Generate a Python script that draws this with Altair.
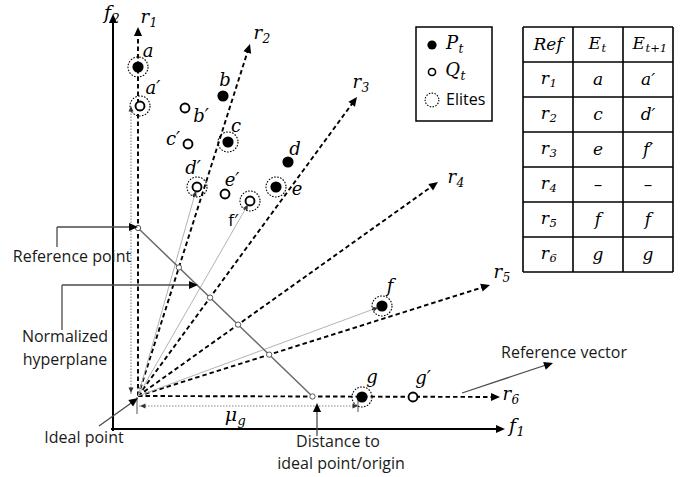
import math
import altair as alt
import pandas as pd

W, H = 691, 477
SERIF = "DejaVu Serif"
SANS = "Open Sans"

# ---------------- geometry (pixel units, y grows downward) ----------------
ideal_x, ideal_y = 138, 396

# reference vectors r1..r6: tip positions and label anchors
ray_sub = ["1", "2", "3", "4", "5", "6"]
ray_tip_x = [138, 250, 357, 438, 490, 500]
ray_tip_y = [27, 44, 97, 182, 285, 397]
ray_lab_x = [149, 262, 361, 456, 502, 511]
ray_lab_y = [18, 34, 83, 178, 273, 395]

# normalized hyperplane end points (on r1 and on r6)
hp_x = [138, 312]
hp_y = [228, 396]

# solutions: P_t (parents) / Q_t (offspring), elites ringed
pt_name = ["a", "a′", "b", "b′", "c", "c′", "d", "d′", "e", "e′", "f′", "f", "g", "g′"]
pt_x = [138, 140, 223, 185, 228, 188, 288, 197, 276, 225, 250, 382, 362, 413]
pt_y = [67, 106, 96, 108, 142, 144, 162, 187, 187, 194, 201, 306, 397, 397]
pt_kind = ["P", "Q", "P", "Q", "P", "Q", "P", "Q", "P", "Q", "Q", "P", "P", "Q"]
pt_elite = [1, 1, 0, 0, 1, 0, 0, 1, 1, 0, 1, 1, 1, 0]
lab_x = [148, 153, 225, 201, 236, 173, 295, 193, 297, 232, 233, 390, 372, 423]
lab_y = [52, 89, 81, 117, 127, 140, 150, 169, 190, 181, 221, 287, 378, 379]
lab_sans = [0, 0, 0, 0, 0, 0, 0, 0, 0, 0, 1, 0, 0, 0]

# solutions projected towards the ideal point with thin grey lines
proj_targets = ["d′", "f′", "f"]

# table of elites per reference vector
tbl_col_x = [523, 573, 623, 673]
tbl_row_y = [27, 62, 97, 132, 167, 202, 237, 272]
tbl_ref = ["1", "2", "3", "4", "5", "6"]
tbl_et = ["a", "c", "e", "–", "f", "g"]
tbl_et1 = ["a′", "d′", "f′", "–", "f", "g"]

# legend box
leg_box = (416, 27, 492, 121)
leg_item_y = [45, 72, 100]

# ---------------- helpers ----------------
xs = alt.Scale(domain=[0, W], nice=False, zero=False)
ys = alt.Scale(domain=[0, H], nice=False, zero=False, reverse=True)


def enc_xy():
    return dict(x=alt.X("x:Q", scale=xs, axis=None), y=alt.Y("y:Q", scale=ys, axis=None))


def segs(rows, color="black", width=1.0, dash=None, opacity=1.0):
    df = pd.DataFrame(rows, columns=["x", "y", "x2", "y2"])
    kw = dict(color=color, strokeWidth=width, opacity=opacity)
    if dash:
        kw["strokeDash"] = dash
    return alt.Chart(df).mark_rule(**kw).encode(
        x=alt.X("x:Q", scale=xs, axis=None),
        y=alt.Y("y:Q", scale=ys, axis=None),
        x2="x2:Q",
        y2="y2:Q",
    )


def unit(fx, fy, tx, ty):
    dx, dy = tx - fx, ty - fy
    n = math.hypot(dx, dy)
    return dx / n, dy / n


ARROW = "M0,0L-0.9,2L0.9,2Z"
arrow_rows = []


def arrow(tx, ty, fx, fy, size, color="black"):
    ang = math.degrees(math.atan2(tx - fx, -(ty - fy))) % 360
    arrow_rows.append(dict(x=tx, y=ty, angle=ang, size=size, color=color))


def line_to_arrow(fx, fy, tx, ty, alen):
    ux, uy = unit(fx, fy, tx, ty)
    return [fx, fy, tx - ux * (alen - 1), ty - uy * (alen - 1)]


def intersect(p1, p2, p3, p4):
    x1, y1 = p1
    x2, y2 = p2
    x3, y3 = p3
    x4, y4 = p4
    d = (x1 - x2) * (y3 - y4) - (y1 - y2) * (x3 - x4)
    t = ((x1 - x3) * (y3 - y4) - (y1 - y3) * (x3 - x4)) / d
    return x1 + t * (x2 - x1), y1 + t * (y2 - y1)


def text_layer(rows, size, font, italic=False, align="center", color="black", dy=0):
    df = pd.DataFrame(rows, columns=["x", "y", "t"])
    kw = dict(align=align, baseline="middle", fontSize=size, font=font, color=color, dy=dy)
    if italic:
        kw["fontStyle"] = "italic"
    return alt.Chart(df).mark_text(**kw).encode(
        x=alt.X("x:Q", scale=xs, axis=None),
        y=alt.Y("y:Q", scale=ys, axis=None),
        text="t:N",
    )


def sub_label(rows, size):
    # rows: (junction x, y, main, sub)
    main = [(r[0], r[1], r[2]) for r in rows]
    sub = [(r[0] + 0.5, r[1], r[3]) for r in rows]
    return [
        text_layer(main, size, SERIF, italic=True, align="right"),
        text_layer(sub, size * 0.68, SERIF, italic=True, align="left", dy=size * 0.3),
    ]


layers = []

# ---------------- axes f1, f2 ----------------
AX_A = 81
layers.append(segs([line_to_arrow(113, 431, 113, 14, 9), line_to_arrow(111, 429, 505, 429, 9)],
                   width=2))
arrow(113, 14, 113, 431, AX_A)
arrow(505, 429, 111, 429, AX_A)

# ---------------- reference vectors ----------------
ray_rows = []
for tx, ty in zip(ray_tip_x, ray_tip_y):
    ray_rows.append(line_to_arrow(ideal_x, ideal_y, tx, ty, 9))
    arrow(tx, ty, ideal_x, ideal_y, 81)
layers.append(segs(ray_rows, width=1.9, dash=[4.5, 3]))

# ---------------- projections (grey) ----------------
proj_rows = []
for name in proj_targets:
    i = pt_name.index(name)
    ux, uy = unit(ideal_x, ideal_y, pt_x[i], pt_y[i])
    tx, ty = pt_x[i] - ux * 4, pt_y[i] - uy * 4
    proj_rows.append(line_to_arrow(ideal_x, ideal_y, tx, ty, 6))
    arrow(tx, ty, ideal_x, ideal_y, 30, "#333333")
layers.append(segs(proj_rows, color="#b3b3b3", width=1.0))

# distance of a′ along r1 and of g along r6 (dotted double arrows)
ia = pt_name.index("a′")
ig = pt_name.index("g")
layers.append(segs([[131, ideal_y - 2, 131, pt_y[ia]], [ideal_x + 1, 406, pt_x[ig] - 4, 406]],
                   color="#888888", width=1.1, dash=[1.5, 1.5]))
arrow(131, pt_y[ia], 131, ideal_y, 30, "#333333")
arrow(131, ideal_y - 3, 131, pt_y[ia], 30, "#333333")
arrow(ideal_x + 2, 406, pt_x[ig], 406, 30, "#333333")
arrow(pt_x[ig] - 4, 406, ideal_x, 406, 30, "#333333")
layers.append(segs([[ideal_x - 1, 397, ideal_x - 1, 414], [pt_x[ig] - 4, 399, pt_x[ig] - 4, 412]],
                   color="#555555", width=1))

# ---------------- normalized hyperplane and reference points ----------------
layers.append(segs([[hp_x[0], hp_y[0], hp_x[1], hp_y[1]]], color="#6a6a6a", width=1.5))
ref_pts = []
for tx, ty in zip(ray_tip_x, ray_tip_y):
    ref_pts.append(intersect((ideal_x, ideal_y), (tx, ty), (hp_x[0], hp_y[0]), (hp_x[1], hp_y[1])))
ref_df = pd.DataFrame(ref_pts, columns=["x", "y"])
layers.append(alt.Chart(ref_df).mark_point(shape="circle", fill="white", stroke="#555555",
                                            strokeWidth=1, size=28, opacity=1).encode(**enc_xy()))

# ---------------- callouts ----------------
layers.append(segs([
    [57, 247, 57, 227], [57, 227, 134, 227],
    [62, 330, 62, 285], [62, 285, 193, 285],
    [99, 426, 134, 401],
    [317, 436, 317, 408],
    [462, 393, 549, 364],
], color="#4a4a4a", width=1.3))
arrow(138, 227, 57, 227, 81)
arrow(198, 285, 62, 285, 81)
arrow(138, 398, 99, 426, 81)
arrow(317, 403, 317, 436, 81)
arrow(553, 363, 462, 393, 81)

# ---------------- solutions ----------------
pts = pd.DataFrame(dict(x=pt_x, y=pt_y, kind=pt_kind, elite=pt_elite))
layers.append(alt.Chart(pts[pts.elite == 1]).mark_point(
    shape="circle", filled=False, stroke="black", strokeWidth=1.1, strokeDash=[1.6, 1.4],
    size=400, opacity=1).encode(**enc_xy()))
layers.append(alt.Chart(pts[pts.kind == "P"]).mark_point(
    shape="circle", filled=True, fill="black", strokeWidth=0, size=125, opacity=1).encode(**enc_xy()))
layers.append(alt.Chart(pts[pts.kind == "Q"]).mark_point(
    shape="circle", fill="white", stroke="black", strokeWidth=1.9, size=80, opacity=1).encode(**enc_xy()))

# arrowheads
adf = pd.DataFrame(arrow_rows)
layers.append(alt.Chart(adf).mark_point(filled=True, strokeWidth=0, opacity=1).encode(
    x=alt.X("x:Q", scale=xs, axis=None),
    y=alt.Y("y:Q", scale=ys, axis=None),
    angle=alt.Angle("angle:Q", scale=None),
    size=alt.Size("size:Q", scale=None, legend=None),
    color=alt.Color("color:N", scale=None, legend=None),
    shape=alt.value(ARROW),
))

# solution labels
serif_lab = [(lab_x[i], lab_y[i], pt_name[i]) for i in range(len(pt_name)) if not lab_sans[i]]
sans_lab = [(lab_x[i], lab_y[i], pt_name[i]) for i in range(len(pt_name)) if lab_sans[i]]
layers.append(text_layer(serif_lab, 18, SERIF, italic=True))
layers.append(text_layer(sans_lab, 17, SANS))

# ray / axis labels
layers += sub_label([(ray_lab_x[i], ray_lab_y[i], "r", ray_sub[i]) for i in range(6)], 18)
layers += sub_label([(111, 13, "f", "2"), (516, 426, "f", "1"), (237, 415, "μ", "g")], 19)

# callout texts
layers.append(text_layer([
    (72, 257, "Reference point"),
    (65, 337, "Normalized"),
    (65, 360, "hyperplane"),
    (84, 438, "Ideal point"),
    (338, 442, "Distance to"),
    (341, 464, "ideal point/origin"),
    (564, 353, "Reference vector"),
], 16, SANS, color="#1a1a1a"))

# ---------------- legend ----------------
bx0, by0, bx1, by1 = leg_box
leg_df = pd.DataFrame([dict(x=bx0, y=by0, x2=bx1, y2=by1)])
layers.append(alt.Chart(leg_df).mark_rect(fill="white", stroke="black", strokeWidth=1.5).encode(
    x=alt.X("x:Q", scale=xs, axis=None), y=alt.Y("y:Q", scale=ys, axis=None), x2="x2:Q", y2="y2:Q"))
lx = 432
layers.append(alt.Chart(pd.DataFrame(dict(x=[lx], y=[leg_item_y[0]]))).mark_point(
    shape="circle", filled=True, fill="black", strokeWidth=0, size=85, opacity=1).encode(**enc_xy()))
layers.append(alt.Chart(pd.DataFrame(dict(x=[lx], y=[leg_item_y[1]]))).mark_point(
    shape="circle", fill="white", stroke="black", strokeWidth=1.6, size=50, opacity=1).encode(**enc_xy()))
layers.append(alt.Chart(pd.DataFrame(dict(x=[lx], y=[leg_item_y[2]]))).mark_point(
    shape="circle", filled=False, stroke="black", strokeWidth=1.1, strokeDash=[1.5, 1.4],
    size=190, opacity=1).encode(**enc_xy()))
layers += sub_label([(458, leg_item_y[0] - 1, "P", "t"), (460, leg_item_y[1] - 1, "Q", "t")], 18)
layers.append(text_layer([(446, leg_item_y[2], "Elites")], 16, SANS, align="left"))

# ---------------- table ----------------
grid = []
for cx in tbl_col_x:
    grid.append([cx, tbl_row_y[0], cx, tbl_row_y[-1]])
for ry in tbl_row_y:
    grid.append([tbl_col_x[0], ry, tbl_col_x[-1], ry])
layers.append(segs(grid, width=1.6))

cc = [(tbl_col_x[i] + tbl_col_x[i + 1]) / 2 for i in range(3)]
rc = [(tbl_row_y[i] + tbl_row_y[i + 1]) / 2 for i in range(7)]
layers.append(text_layer([(cc[0], rc[0], "Ref")], 17, SERIF, italic=True))
layers += sub_label([(cc[1] + 3, rc[0] - 1, "E", "t"), (cc[2] - 3, rc[0] - 1, "E", "t+1")], 17)
layers += sub_label([(cc[0] + 1, rc[i + 1] - 1, "r", tbl_ref[i]) for i in range(6)], 17)
cells = []
dash_cells = []
for i in range(6):
    for col, val in ((1, tbl_et[i]), (2, tbl_et1[i])):
        (dash_cells if val == "–" else cells).append((cc[col], rc[i + 1], val))
layers.append(text_layer(cells, 17, SERIF, italic=True))
layers.append(text_layer(dash_cells, 17, SERIF))

chart = alt.layer(*layers).properties(
    width=W, height=H, padding=0, autosize="none", background="white"
).configure_view(strokeWidth=0)

chart.save("out.html", embed_options={"renderer": "svg", "actions": False})
